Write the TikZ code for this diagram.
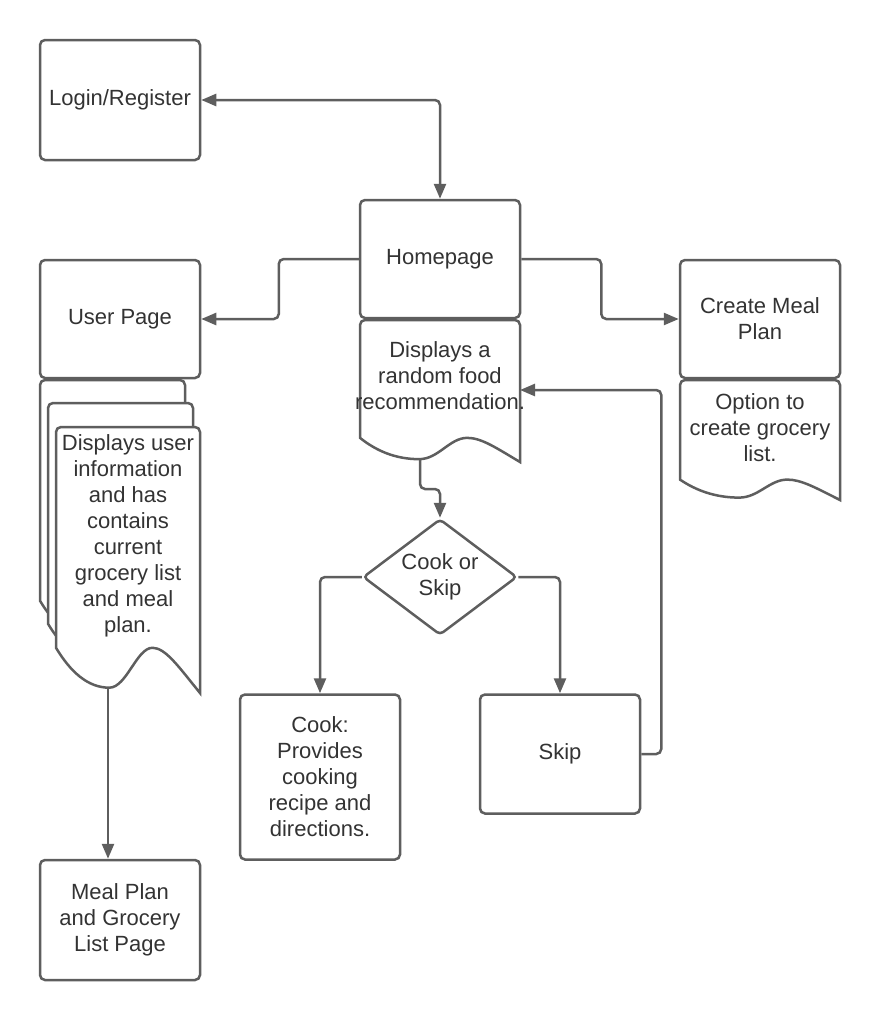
\documentclass[tikz,border=0pt]{standalone}
\usepackage{fontspec}
\setmainfont{Liberation Sans}
\usepackage{tikz}
\usetikzlibrary{arrows.meta,shapes.geometric}
\definecolor{linegray}{HTML}{5E5E5E}
\definecolor{textgray}{HTML}{333333}
\tikzstyle{box}=[draw=linegray, line width=2.5pt, rounded corners=5pt, fill=white, align=center, text=textgray, inner sep=0pt, minimum width=160pt, font={\fontsize{22}{26}\selectfont}]
\tikzstyle{txt}=[align=center, text=textgray, inner sep=0pt, font={\fontsize{22}{26}\selectfont}]
\tikzstyle{decision}=[diamond, draw=linegray, line width=2.5pt, rounded corners=4pt, aspect=1.33, minimum width=154pt, minimum height=116pt, align=center, text=textgray, inner sep=0pt, font={\fontsize{22}{26}\selectfont}]
\tikzstyle{arrow}=[draw=linegray, line width=2.5pt, rounded corners=5pt, >={Triangle[length=15pt,width=12pt]}]
% paper sheet with a wavy bottom: x, y, width, height
\newcommand{\docshape}[4]{%
  \draw[draw=linegray, line width=2.5pt, fill=white, rounded corners=5pt]
    (#1,{#2+0.83*#4}) -- (#1,#2) -- ({#1+#3},#2) -- ({#1+#3},{#2+0.5*#4}) [sharp corners]
    -- ({#1+#3},{#2+#4})
    .. controls ({#1+0.85*#3},{#2+0.9*#4}) and ({#1+0.76*#3},{#2+0.83*#4}) .. ({#1+0.67*#3},{#2+0.83*#4})
    .. controls ({#1+0.56*#3},{#2+0.83*#4}) and ({#1+0.49*#3},{#2+0.98*#4}) .. ({#1+0.37*#3},{#2+0.98*#4})
    .. controls ({#1+0.22*#3},{#2+0.98*#4}) and ({#1+0.1*#3},{#2+0.92*#4}) .. (#1,{#2+0.83*#4}) -- cycle;}

\begin{document}
\begin{tikzpicture}[x=1pt, y=-1pt]
		   \useasboundingbox (0,0) rectangle (880,1020);
		   \begin{scope}
			   \node (0) at (120,100)[box, minimum height=120pt] {Login/Register};
			   \node (1) at (440,259)[box, minimum height=118pt] {Homepage};
			   \node (2) at (120,319)[box, minimum height=118pt] {User Page};
			   \node (3) at (760,319)[box, minimum height=118pt] {Create Meal\\Plan};
		   \end{scope}
		   \begin{scope}
			   \docshape{360}{320}{160}{142}
			   \docshape{680}{380}{160}{120}
			   \docshape{40}{380}{145}{266}
			   \docshape{48}{403}{145}{266}
			   \docshape{56}{427}{144}{266}
		   \end{scope}
		   \begin{scope}
			   \node (4) at (440,376)[txt] {Displays a\\random food\\recommendation.};
			   \node (5) at (760,428)[txt] {Option to\\create grocery\\list.};
			   \node (6) at (128,536)[txt] {Displays user\\information\\and has\\contains\\current\\grocery list\\and meal\\plan.};
			   \node (7) at (440,577)[decision] {Cook or\\Skip};
			   \node (8) at (320,777)[box, minimum height=165pt] {Cook:\\Provides\\cooking\\recipe and\\directions.};
			   \node (9) at (560,754)[box, minimum height=119pt] {Skip};
			   \node (10) at (120,920)[box, minimum height=120pt] {Meal Plan\\and Grocery\\List Page};
			   \coordinate (a) at (420,459);
			   \coordinate (b) at (520,390);
			   \coordinate (c) at (108,688);
		   \end{scope}
		   \begin{scope}
			   \draw [arrow, <->] (0.east) -| (1.north);
			   \draw [arrow, ->] (1.west) -- ++(-80,0) |- (2.east);
			   \draw [arrow, ->] (1.east) -- ++(80,0) |- (3.west);
			   \draw [arrow, ->] (a) -- ++(0,30) -| (7.north);
			   \draw [arrow, ->] (7.west) -| (8.north);
			   \draw [arrow, ->] (7.east) -| (9.north);
			   \draw [arrow, ->] (9.east) -- ++(20,0) |- (b);
			   \draw [arrow, ->] (c) -- (c |- 10.north);
		   \end{scope}
	   \end{tikzpicture}
\end{document}
